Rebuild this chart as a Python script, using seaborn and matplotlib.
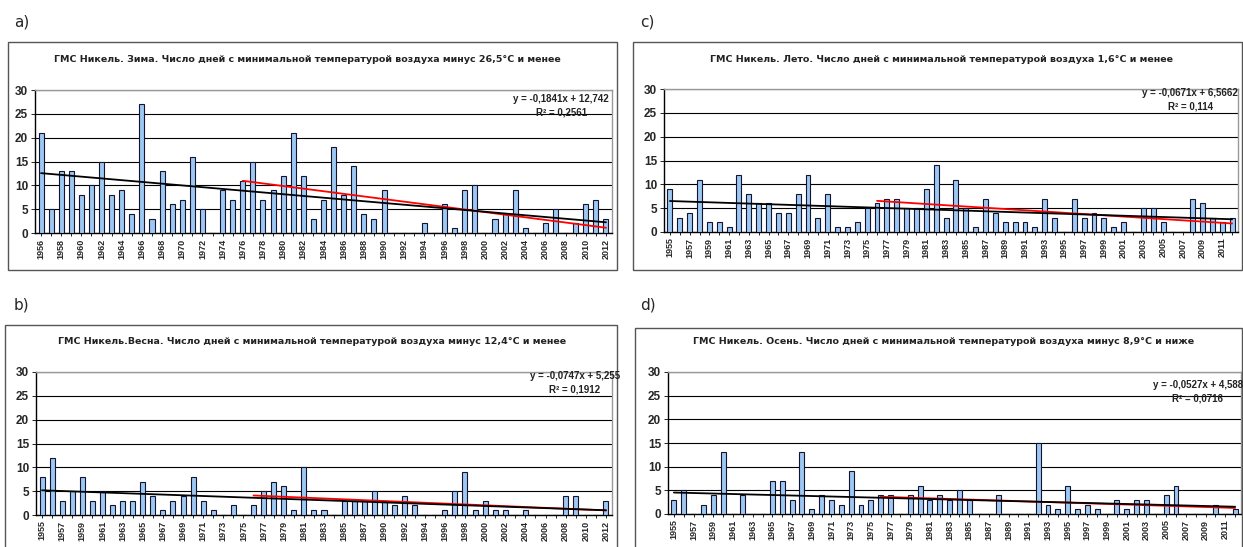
import matplotlib
matplotlib.use('Agg')
import matplotlib.pyplot as plt
from matplotlib.patches import Rectangle
import numpy as np
import pandas as pd
import seaborn as sns

sns.set_style('white')
plt.rcParams['font.family'] = ['Liberation Sans', 'DejaVu Sans']

# данные (число дней)
winter_years = list(range(1956, 2013))
winter_days = [21, 5, 13, 13, 8, 10, 15, 8, 9, 4,
               27, 3, 13, 6, 7, 16, 5, 0, 9, 7,
               11, 15, 7, 9, 12, 21, 12, 3,
               7, 18, 8, 14, 4, 3, 9, 0, 0, 0,
               2, 0, 6, 1, 9, 10, 0, 3, 4, 9,
               1, 0, 2, 5, 0, 2, 6, 7, 3]

summer_years = list(range(1955, 2013))
summer_days = [9, 3, 4, 11, 2, 2, 1, 12, 8, 6,
               6, 4, 4, 8, 12, 3, 8, 1, 1, 2,
               5, 6, 7, 7, 5, 5, 9, 14,
               3, 11, 5, 1, 7, 4, 2, 2, 2, 1,
               7, 3, 0, 7, 3, 4, 3, 1, 2, 0,
               5, 5, 2, 0, 0, 7, 6, 3, 2, 3]

spring_years = list(range(1955, 1989)) + list(range(1990, 2013))
spring_days = [8, 12, 3, 5, 8, 3, 5, 2, 3, 3,
               7, 4, 1, 3, 4, 8, 3, 1, 0, 2,
               0, 2, 5, 7, 6, 1, 10, 1, 1, 0,
               3, 3, 3, 5,
               3, 2, 4, 2, 0, 0, 1, 5, 9, 1,
               3, 1, 1, 0, 1, 0, 0, 0, 4, 4, 0, 0, 3]

autumn_years = list(range(1955, 2013))
autumn_days = [3, 5, 0, 2, 4, 13, 0, 4, 0, 0,
               7, 7, 3, 13, 1, 4, 3, 2, 9, 2,
               3, 4, 4, 0, 4, 6, 3, 4, 3, 5,
               3, 0, 0, 4, 0, 0, 0, 15, 2, 1,
               6, 1, 2, 1, 0, 3, 1, 3, 3, 0,
               4, 6, 0, 0, 0, 2, 0, 1]

titles = ['ГМС Никель. Зима. Число дней с минимальной температурой воздуха минус 26,5°С и менее',
          'ГМС Никель. Лето. Число дней с минимальной температурой воздуха 1,6°С и менее',
          'ГМС Никель.Весна. Число дней с минимальной температурой воздуха минус 12,4°С и менее',
          'ГМС Никель. Осень. Число дней с минимальной температурой воздуха минус 8,9°С и ниже']
equations = ['y = -0,1841x + 12,742', 'y = -0,0671x + 6,5662',
             'y = -0,0747x + 5,255', 'y = -0,0527x + 4,588']
r2_labels = ['R² = 0,2561', 'R² = 0,114', 'R² = 0,1912', 'R² = 0,0716']
panel_letters = ['a)', 'c)', 'b)', 'd)']
red_from = 1976

W, H = 1243, 547
fig = plt.figure(figsize=(W / 100, H / 100), dpi=100)


def fx(px):
    return px / W


def fy(py):
    return 1 - py / H


# рамки, оси, подписи: (box l,t,r,b), (axes l,t,r,b), letter xy, title xy, eq xy
layouts = [
    ((8, 42, 617, 270), (35, 90, 612, 233), (14, 22), (307, 59), (609, 99)),
    ((633, 42, 1242, 270), (664, 89, 1238, 232), (640, 22), (941, 59), (1238, 93)),
    ((5, 325, 617, 548), (36, 372, 612, 515), (14, 305), (312, 341), (620, 376)),
    ((635, 328, 1242, 548), (668, 372, 1241, 514), (640, 305), (944, 341), (1243, 385)),
]
series = [(winter_years, winter_days), (summer_years, summer_days),
          (spring_years, spring_days), (autumn_years, autumn_days)]

for i, ((years, days), lay) in enumerate(zip(series, layouts)):
    box, axr, let, tit, eqp = lay
    fig.patches.append(Rectangle((fx(box[0]), fy(box[3])), fx(box[2] - box[0]), (box[3] - box[1]) / H,
                                 transform=fig.transFigure, fill=False, edgecolor='#555555', lw=1.0))
    fig.text(fx(let[0]), fy(let[1]), panel_letters[i], fontsize=11, family='DejaVu Sans', va='center')
    fig.text(fx(tit[0]), fy(tit[1]), titles[i], fontsize=6.8, fontweight='bold', ha='center', va='center',
             color='#222222', family='DejaVu Sans')

    ax = fig.add_axes([fx(axr[0]), fy(axr[3]), fx(axr[2] - axr[0]), (axr[3] - axr[1]) / H])
    df = pd.DataFrame({'year': [str(y) for y in years], 'days': days})
    sns.barplot(data=df, x='year', y='days', color='#9CC8F2', saturation=1, edgecolor='#141430',
                linewidth=0.8, width=0.5, ax=ax, zorder=3)

    n = len(days)
    xs = np.arange(n)
    k, b = np.polyfit(xs, days, 1)
    start = years.index(red_from)
    xr = xs[start:]
    kr, br = np.polyfit(xr, np.array(days)[start:], 1)
    ax.plot(xr, kr * xr + br, color='red', lw=1.3, zorder=4)
    ax.plot(xs, k * xs + b, color='black', lw=1.3, zorder=5)

    ax.set_xlim(-0.6, n - 0.4)
    ax.set_ylim(0, 30)
    ax.set_yticks(range(0, 31, 5))
    ax.yaxis.grid(True, color='black', lw=0.8)
    ax.set_axisbelow(True)
    ax.set_xlabel('')
    ax.set_ylabel('')
    ax.set_xticks(xs)
    ax.set_xticklabels([str(y) if j % 2 == 0 else '' for j, y in enumerate(years)],
                       rotation=90, fontsize=6.5, fontweight='bold')
    for lab in ax.get_yticklabels():
        lab.set_fontweight('bold')
        lab.set_fontsize(8.5)
    ax.tick_params(axis='x', length=2.5, width=0.6, pad=1.5, color='black', bottom=True)
    ax.tick_params(axis='y', length=3, width=0.6, pad=2, color='black', left=True)
    for s in ['top', 'right']:
        ax.spines[s].set_color('#999999')
        ax.spines[s].set_linewidth(1.0)
    for s in ['left', 'bottom']:
        ax.spines[s].set_color('black')
        ax.spines[s].set_linewidth(1.0)

    fig.text(fx(eqp[0]), fy(eqp[1] + 7), equations[i] + '\n' + r2_labels[i], fontsize=7, fontweight='bold',
             ha='right', va='center', multialignment='center', linespacing=1.45, color='#222222')

fig.savefig('out.png', dpi=100)
